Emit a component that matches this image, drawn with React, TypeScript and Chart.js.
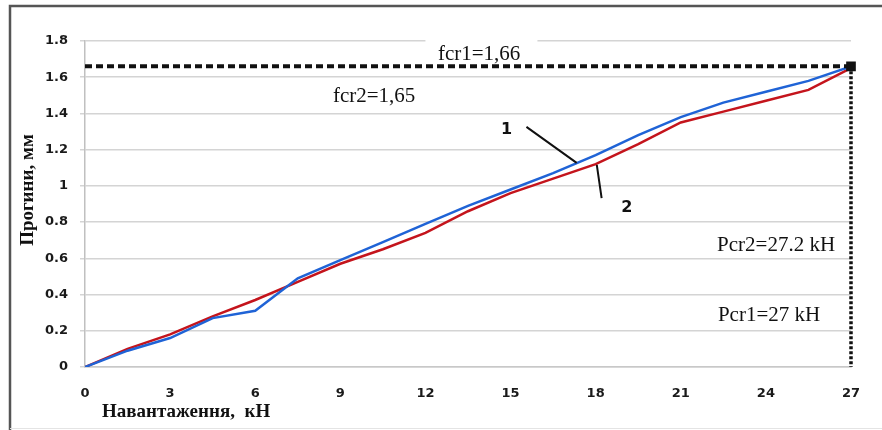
import React, { useEffect, useRef } from "react";
import { Chart, registerables } from "chart.js";

Chart.register(...registerables);

// ---- data ----
const loads = [0, 1.5, 3, 4.5, 6, 7.5, 9, 10.5, 12, 13.5, 15, 16.5, 18, 19.5, 21, 22.5, 24, 25.5, 27];
const deflection1 = [0, 0.09, 0.16, 0.27, 0.31, 0.49, 0.59, 0.69, 0.79, 0.89, 0.98, 1.07, 1.17, 1.28, 1.38, 1.46, 1.52, 1.58, 1.66];
const deflection2 = [0, 0.1, 0.18, 0.28, 0.37, 0.47, 0.57, 0.65, 0.74, 0.86, 0.96, 1.04, 1.12, 1.23, 1.35, 1.41, 1.47, 1.53, 1.65];
const xTicks = [0, 3, 6, 9, 12, 15, 18, 21, 24, 27];
const yTicks = [0, 0.2, 0.4, 0.6, 0.8, 1, 1.2, 1.4, 1.6, 1.8];
const yTickLabels = ["0", "0.2", "0.4", "0.6", "0.8", "1", "1.2", "1.4", "1.6", "1.8"];
const fcr1 = 1.66;
const pcrX = 27;
const seriesNames = ["1", "2"];
const xTitle = "Навантаження,  кН";
const yTitle = "Прогини, мм";
const notes = ["fcr1=1,66", "fcr2=1,65", "Pcr2=27.2 kH", "Pcr1=27 kH"];

const W = 882;
const H = 430;

const annotationPlugin = {
  id: "annotations",
  afterDatasetsDraw(chart: any) {
    const { ctx, scales } = chart;
    const x = scales.x;
    const y = scales.y;
    const px = (v: number) => x.getPixelForValue(v);
    const py = (v: number) => y.getPixelForValue(v);
    ctx.save();
    // white box behind fcr1 label (hides gridline)
    ctx.fillStyle = "#ffffff";
    ctx.fillRect(px(12.0), py(1.8) - 4, 112, 24);

    ctx.fillStyle = "#111111";
    ctx.textBaseline = "alphabetic";
    ctx.textAlign = "left";
    ctx.font = "21px 'Liberation Serif', 'Times New Roman', serif";
    ctx.fillText(notes[0], px(12.44), py(1.696));
    ctx.fillText(notes[1], px(8.74), py(1.464));
    ctx.fillText(notes[2], px(22.28), py(0.643));
    ctx.fillText(notes[3], px(22.31), py(0.254));

    // leader lines
    ctx.strokeStyle = "#111111";
    ctx.lineWidth = 2;
    ctx.beginPath();
    ctx.moveTo(px(15.56), py(1.326));
    ctx.lineTo(px(17.33), py(1.127));
    ctx.moveTo(px(18.04), py(1.116));
    ctx.lineTo(px(18.21), py(0.932));
    ctx.stroke();

    ctx.font = "bold 16px 'DejaVu Sans', Verdana, sans-serif";
    ctx.textAlign = "center";
    ctx.textBaseline = "middle";
    ctx.fillText(seriesNames[0], px(14.86), py(1.309));
    ctx.fillText(seriesNames[1], px(19.1), py(0.878));
    ctx.restore();
  },
  afterDraw(chart: any) {
    const { ctx } = chart;
    ctx.save();
    // outer frame
    ctx.strokeStyle = "#555555";
    ctx.lineWidth = 2.5;
    ctx.beginPath();
    ctx.moveTo(10, H);
    ctx.lineTo(10, 6);
    ctx.lineTo(W, 6);
    ctx.stroke();
    ctx.strokeStyle = "#e4e4e4";
    ctx.lineWidth = 1;
    ctx.beginPath();
    ctx.moveTo(10, 428.5);
    ctx.lineTo(W, 428.5);
    ctx.stroke();

    // axis titles
    ctx.fillStyle = "#111111";
    ctx.font = "bold 19px 'Liberation Serif', 'Times New Roman', serif";
    ctx.textAlign = "left";
    ctx.textBaseline = "middle";
    ctx.fillText(xTitle, 102, 412);
    ctx.translate(28, 190);
    ctx.rotate(-Math.PI / 2);
    ctx.textAlign = "center";
    ctx.fillText(yTitle, 0, 0);
    ctx.restore();
  },
};

export default function App() {
  const ref = useRef<HTMLCanvasElement | null>(null);

  useEffect(() => {
    if (!ref.current) return;
    const pts = (ys: number[]) => loads.map((v, i) => ({ x: v, y: ys[i] }));
    const chart = new Chart(ref.current, {
      type: "line",
      data: {
        datasets: [
          {
            label: "fcr",
            data: [
              { x: 0, y: fcr1 },
              { x: pcrX, y: fcr1 },
            ],
            borderColor: "#111111",
            backgroundColor: "#111111",
            borderWidth: 4,
            borderDash: [7, 4],
            pointStyle: "rect",
            pointRadius: (c: any) => (c.dataIndex === 1 ? 4 : 0),
            fill: false,
            clip: 8,
          },
          {
            label: "Pcr",
            data: [
              { x: pcrX, y: fcr1 },
              { x: pcrX, y: 0 },
            ],
            borderColor: "#111111",
            borderWidth: 3.5,
            borderDash: [3, 2],
            pointRadius: 0,
            fill: false,
            clip: 8,
          },
          {
            label: seriesNames[0],
            data: pts(deflection1),
            borderColor: "#1f63d6",
            borderWidth: 2.5,
            pointRadius: 0,
            tension: 0,
            fill: false,
          },
          {
            label: seriesNames[1],
            data: pts(deflection2),
            borderColor: "#c4141c",
            borderWidth: 2.5,
            pointRadius: 0,
            tension: 0,
            fill: false,
          },
        ],
      },
      options: {
        animation: false,
        responsive: false,
        devicePixelRatio: 1,
        layout: { padding: { left: 0, right: 31, top: 41, bottom: 0 } },
        plugins: {
          legend: { display: false },
          tooltip: { enabled: false },
        },
        scales: {
          x: {
            type: "linear",
            min: 0,
            max: 27,
            afterBuildTicks: (s: any) => {
              s.ticks = xTicks.map((v) => ({ value: v }));
            },
            afterFit: (s: any) => {
              s.height = 63;
            },
            grid: { display: false },
            border: { display: true, color: "#c8c8c8", width: 1.5 },
            ticks: {
              padding: 11,
              color: "#1a1a1a",
              font: { family: "'DejaVu Sans', Verdana, sans-serif", size: 13, weight: "bold" },
              maxRotation: 0,
              autoSkip: false,
            },
          },
          y: {
            type: "linear",
            min: 0,
            max: 1.8,
            afterBuildTicks: (s: any) => {
              s.ticks = yTicks.map((v) => ({ value: v }));
            },
            afterFit: (s: any) => {
              s.width = 85;
            },
            grid: { color: "#d4d4d4", lineWidth: 1.5, tickLength: 5, drawTicks: true },
            border: { display: true, color: "#c0c0c0", width: 1.5 },
            ticks: {
              padding: 12,
              color: "#1a1a1a",
              font: { family: "'DejaVu Sans', Verdana, sans-serif", size: 13, weight: "bold" },
              callback: (v: any) => {
                const i = yTicks.findIndex((t) => Math.abs(t - Number(v)) < 1e-6);
                return i >= 0 ? yTickLabels[i] : "";
              },
              autoSkip: false,
            },
          },
        },
      },
      plugins: [annotationPlugin],
    } as any);
    return () => chart.destroy();
  }, []);

  return (
    <div style={{ position: "absolute", left: 0, top: 0, width: W, height: H, background: "#ffffff" }}>
      <canvas ref={ref} width={W} height={H} style={{ width: W, height: H, display: "block" }} />
    </div>
  );
}
